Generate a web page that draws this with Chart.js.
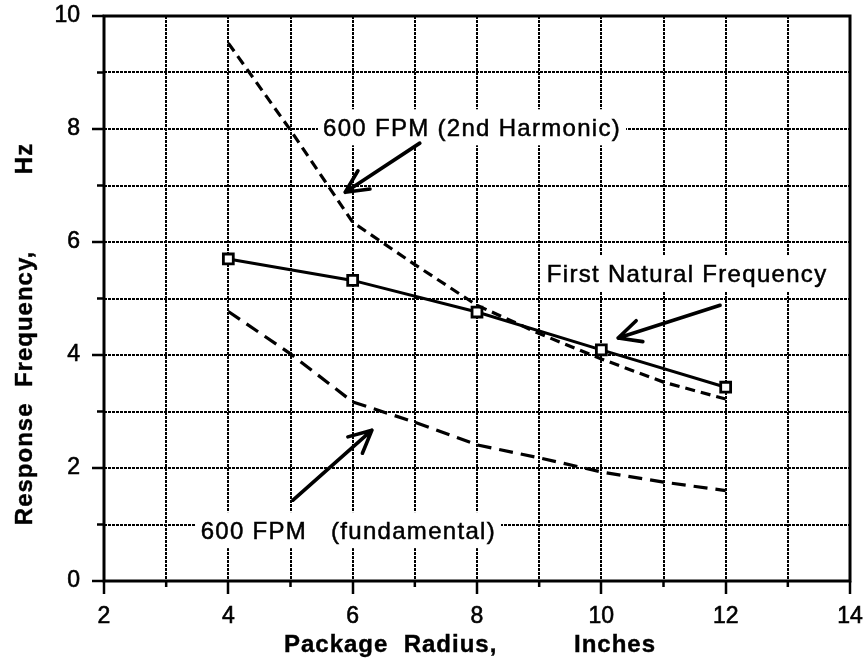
<!DOCTYPE html>
<html>
<head>
<meta charset="utf-8">
<script src="https://cdn.jsdelivr.net/npm/chart.js@4.4.1/dist/chart.umd.min.js"></script>
<style>
  html, body { margin: 0; padding: 0; background: #fff; }
  canvas { display: block; }
</style>
</head>
<body>
<canvas id="chart" width="867" height="664"></canvas>
<script>
// Package radius (in) and measured first natural frequency (Hz)
const radiusMeasured = [4, 6, 8, 10, 12];
const naturalFreq = [5.70, 5.32, 4.76, 4.09, 3.43];

// Excitation frequencies at 600 FPM belt speed
const radiusFpm = [4, 5, 6, 7, 8, 9, 10, 11, 12];
const secondHarmonic = [9.52, 7.98, 6.35, 5.60, 4.88, 4.38, 3.93, 3.52, 3.22];
const fundamental = [4.77, 4.02, 3.17, 2.81, 2.41, 2.18, 1.93, 1.75, 1.60];

// Axis ranges and labelled ticks
const xRange = [2, 14];
const yRange = [0, 10];
const xLabelled = [2, 4, 6, 8, 10, 12, 14];
const yLabelled = [0, 2, 4, 6, 8, 10];

// Callout texts and arrows (anchored in data units)
const callouts = [
  { text: '600 FPM (2nd Harmonic)', x: 7.92, y: 8.03 },
  { text: 'First Natural Frequency', x: 11.38, y: 5.45 },
  { text: '600 FPM   (fundamental)', x: 5.93, y: 0.90 }
];
const pointers = [
  { from: [7.08, 7.75], to: [5.88, 6.88] },
  { from: [11.91, 4.88], to: [10.27, 4.30] },
  { from: [5.04, 1.43], to: [6.31, 2.67] }
];

const FONT = "'Liberation Sans', Arial, Helvetica, sans-serif";
const INK = '#000';

const pts = (xs, ys) => xs.map((x, i) => ({ x, y: ys[i] }));

function setSpacing(ctx, v) {
  if ('letterSpacing' in ctx) ctx.letterSpacing = v;
}

// Draws text with a thin outline so the glyphs read a little heavier
function inkText(ctx, text, x, y, weight) {
  ctx.fillText(text, x, y);
  ctx.lineWidth = weight;
  ctx.strokeStyle = INK;
  ctx.strokeText(text, x, y);
}

const paperPlugin = {
  id: 'paper',
  beforeDatasetsDraw(chart) {
    const { ctx, scales: { x, y } } = chart;
    ctx.save();
    ctx.font = `24px ${FONT}`;
    setSpacing(ctx, '1.3px');
    ctx.textAlign = 'center';
    ctx.textBaseline = 'alphabetic';
    callouts.forEach(c => {
      const cx = x.getPixelForValue(c.x);
      const cy = y.getPixelForValue(c.y);
      const w = ctx.measureText(c.text).width;
      ctx.fillStyle = '#fff';
      ctx.fillRect(cx - w / 2 - 5, cy - 18, w + 10, 36);
      ctx.fillStyle = INK;
      inkText(ctx, c.text, cx, cy + 8.5, 0.5);
    });
    ctx.restore();
  },
  afterDatasetsDraw(chart) {
    const { ctx, scales: { x, y } } = chart;
    ctx.save();
    ctx.strokeStyle = INK;
    ctx.lineWidth = 3.6;
    ctx.lineCap = 'round';
    ctx.lineJoin = 'round';
    pointers.forEach(p => {
      const x1 = x.getPixelForValue(p.from[0]), y1 = y.getPixelForValue(p.from[1]);
      const x2 = x.getPixelForValue(p.to[0]), y2 = y.getPixelForValue(p.to[1]);
      const ang = Math.atan2(y1 - y2, x1 - x2);
      const len = 25, spread = 26 * Math.PI / 180;
      ctx.beginPath();
      ctx.moveTo(x1, y1);
      ctx.lineTo(x2, y2);
      ctx.moveTo(x2 + len * Math.cos(ang - spread), y2 + len * Math.sin(ang - spread));
      ctx.lineTo(x2, y2);
      ctx.lineTo(x2 + len * Math.cos(ang + spread), y2 + len * Math.sin(ang + spread));
      ctx.stroke();
    });
    ctx.restore();
  },
  afterDraw(chart) {
    const { ctx, chartArea: a, scales: { x, y } } = chart;
    ctx.save();
    // frame
    ctx.strokeStyle = INK;
    ctx.lineWidth = 3;
    ctx.strokeRect(a.left, a.top, a.right - a.left, a.bottom - a.top);
    // short ticks at the unlabelled grid positions
    ctx.lineWidth = 2.5;
    ctx.beginPath();
    for (let v = xRange[0] + 1; v < xRange[1]; v += 2) {
      const px = x.getPixelForValue(v);
      ctx.moveTo(px, a.bottom);
      ctx.lineTo(px, a.bottom + 6);
    }
    for (let v = yRange[0] + 1; v < yRange[1]; v += 2) {
      const py = y.getPixelForValue(v);
      ctx.moveTo(a.left - 7, py);
      ctx.lineTo(a.left, py);
    }
    ctx.stroke();
    // axis titles
    ctx.fillStyle = INK;
    ctx.font = `bold 24px ${FONT}`;
    setSpacing(ctx, '1px');
    ctx.textAlign = 'center';
    ctx.textBaseline = 'alphabetic';
    inkText(ctx, 'Package  Radius,          Inches', 470, 652, 0.4);
    ctx.translate(32, 334);
    ctx.rotate(-Math.PI / 2);
    inkText(ctx, 'Response  Frequency,          Hz', 0, 0, 0.4);
    ctx.restore();
  }
};

const tickLabel = labelled => v => (labelled.includes(v) ? String(v) : '');

const gridStyle = labelled => ({
  color: INK,
  lineWidth: 2,
  drawTicks: true,
  tickWidth: 2.5,
  tickColor: c => (labelled.includes(c.tick.value) ? INK : 'rgba(0,0,0,0)')
});

new Chart(document.getElementById('chart'), {
  type: 'line',
  data: {
    datasets: [
      {
        label: '600 FPM (2nd Harmonic)',
        data: pts(radiusFpm, secondHarmonic),
        borderColor: INK,
        borderWidth: 3.2,
        borderDash: [10, 6],
        pointRadius: 0,
        fill: false,
        tension: 0
      },
      {
        label: '600 FPM (fundamental)',
        data: pts(radiusFpm, fundamental),
        borderColor: INK,
        borderWidth: 3.2,
        borderDash: [14, 8],
        pointRadius: 0,
        fill: false,
        tension: 0
      },
      {
        label: 'First Natural Frequency',
        data: pts(radiusMeasured, naturalFreq),
        borderColor: INK,
        borderWidth: 3,
        pointStyle: 'rect',
        pointRadius: 7,
        pointBorderWidth: 2.8,
        pointBackgroundColor: '#fff',
        pointBorderColor: INK,
        fill: false,
        tension: 0
      },
      {
        label: 'First Natural Frequency (centre)',
        data: pts(radiusMeasured, naturalFreq),
        showLine: false,
        pointStyle: 'rect',
        pointRadius: 1.8,
        pointBorderWidth: 0,
        pointBackgroundColor: INK
      }
    ]
  },
  options: {
    responsive: false,
    animation: false,
    events: [],
    layout: { padding: { top: 16, right: 17, left: 0, bottom: 0 } },
    plugins: {
      legend: { display: false },
      tooltip: { enabled: false }
    },
    scales: {
      x: {
        type: 'linear',
        min: xRange[0],
        max: xRange[1],
        border: { display: false, dash: [3, 1] },
        grid: Object.assign(gridStyle(xLabelled), { tickLength: 13 }),
        ticks: {
          stepSize: 1,
          autoSkip: false,
          maxRotation: 0,
          padding: 9,
          color: INK,
          textStrokeColor: INK,
          textStrokeWidth: 0.6,
          font: { family: FONT, size: 23 },
          callback: tickLabel(xLabelled)
        },
        afterFit(s) { s.height = 83; s.paddingLeft = 0; s.paddingRight = 0; }
      },
      y: {
        type: 'linear',
        min: yRange[0],
        max: yRange[1],
        border: { display: false, dash: [3, 1] },
        grid: Object.assign(gridStyle(yLabelled), { tickLength: 12 }),
        ticks: {
          stepSize: 1,
          autoSkip: false,
          padding: 12,
          color: INK,
          textStrokeColor: INK,
          textStrokeWidth: 0.6,
          font: { family: FONT, size: 23 },
          callback: tickLabel(yLabelled)
        },
        afterFit(s) { s.width = 104; s.paddingTop = 0; s.paddingBottom = 0; }
      }
    }
  },
  plugins: [paperPlugin]
});
</script>
</body>
</html>
